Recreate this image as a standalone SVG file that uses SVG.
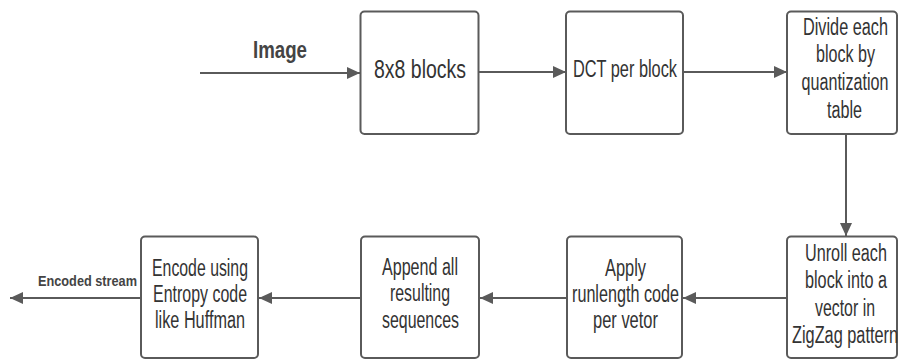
<svg xmlns="http://www.w3.org/2000/svg" width="899" height="360" viewBox="0 0 899 360">
  <style>
    .box { fill: #ffffff; stroke: #5a5a5a; stroke-width: 2; }
    .lbl { font-family: "Liberation Sans", Arial, sans-serif; font-size: 23px; fill: #333333; text-anchor: middle; }
    .big { font-size: 26px; }
    .edge { font-family: "Liberation Sans", Arial, sans-serif; font-weight: bold; fill: #444444; text-anchor: middle; }
    .wire { fill: none; stroke: #5a5a5a; stroke-width: 2; marker-end: url(#arrow); }
  </style>
  <defs>
    <marker id="arrow" markerUnits="userSpaceOnUse" markerWidth="14" markerHeight="13" refX="13" refY="6" orient="auto">
      <path d="M0,0 L13,6 L0,12 Z" fill="#5a5a5a"/>
    </marker>
  </defs>
  <rect width="899" height="360" fill="#ffffff"/>

  <!-- connectors -->
  <g id="connectors">
    <line class="wire" x1="200" y1="73" x2="360" y2="73"/>
    <line class="wire" x1="479" y1="72" x2="566" y2="72"/>
    <line class="wire" x1="683" y1="72" x2="787" y2="72"/>
    <line class="wire" x1="846" y1="134" x2="846" y2="236"/>
    <line class="wire" x1="787" y1="298" x2="683" y2="298"/>
    <line class="wire" x1="567" y1="298" x2="480" y2="298"/>
    <line class="wire" x1="361" y1="298" x2="259" y2="298"/>
    <line class="wire" x1="141" y1="298" x2="10" y2="298"/>
    <text class="edge" x="280" y="58" font-size="23" textLength="54" lengthAdjust="spacingAndGlyphs">Image</text>
    <text class="edge" x="87.5" y="285.5" font-size="15.5" textLength="99" lengthAdjust="spacingAndGlyphs">Encoded stream</text>
  </g>

  <!-- 8x8 blocks -->
  <g id="blocks">
    <rect class="box" x="360.5" y="11.5" width="118" height="122.5" rx="4"/>
    <text class="lbl big" x="420" y="78" textLength="92" lengthAdjust="spacingAndGlyphs">8x8 blocks</text>
  </g>

  <!-- DCT per block -->
  <g id="dct">
    <rect class="box" x="566" y="11.5" width="117" height="122.5" rx="4"/>
    <text class="lbl" x="625" y="77" textLength="104" lengthAdjust="spacingAndGlyphs">DCT per block</text>
  </g>

  <!-- Quantization -->
  <g id="quantize">
    <rect class="box" x="787" y="11.5" width="110" height="122.5" rx="4"/>
    <text class="lbl" x="845.5" y="34.5" textLength="85" lengthAdjust="spacingAndGlyphs">Divide each</text>
    <text class="lbl" x="845.5" y="62" textLength="59" lengthAdjust="spacingAndGlyphs">block by</text>
    <text class="lbl" x="845" y="89.5" textLength="87" lengthAdjust="spacingAndGlyphs">quantization</text>
    <text class="lbl" x="844.5" y="117.5" textLength="35" lengthAdjust="spacingAndGlyphs">table</text>
  </g>

  <!-- ZigZag unroll -->
  <g id="zigzag">
    <rect class="box" x="787" y="236.5" width="110" height="121.5" rx="4"/>
    <text class="lbl" x="846" y="260.5" textLength="82" lengthAdjust="spacingAndGlyphs">Unroll each</text>
    <text class="lbl" x="846" y="288" textLength="82" lengthAdjust="spacingAndGlyphs">block into a</text>
    <text class="lbl" x="845" y="315.5" textLength="60" lengthAdjust="spacingAndGlyphs">vector in</text>
    <text class="lbl" x="845" y="343" textLength="106" lengthAdjust="spacingAndGlyphs">ZigZag pattern</text>
  </g>

  <!-- Run-length coding -->
  <g id="runlength">
    <rect class="box" x="567" y="236.5" width="115" height="121.5" rx="4"/>
    <text class="lbl" x="625.5" y="275.5" textLength="41" lengthAdjust="spacingAndGlyphs">Apply</text>
    <text class="lbl" x="625.5" y="301.5" textLength="107" lengthAdjust="spacingAndGlyphs">runlength code</text>
    <text class="lbl" x="625.5" y="327.5" textLength="65" lengthAdjust="spacingAndGlyphs">per vetor</text>
  </g>

  <!-- Append sequences -->
  <g id="append">
    <rect class="box" x="361" y="236.5" width="118" height="121.5" rx="4"/>
    <text class="lbl" x="420" y="274.5" textLength="76" lengthAdjust="spacingAndGlyphs">Append all</text>
    <text class="lbl" x="420" y="300.5" textLength="60" lengthAdjust="spacingAndGlyphs">resulting</text>
    <text class="lbl" x="420.5" y="327.5" textLength="77" lengthAdjust="spacingAndGlyphs">sequences</text>
  </g>

  <!-- Entropy coding -->
  <g id="entropy">
    <rect class="box" x="141" y="236.5" width="117" height="121.5" rx="4"/>
    <text class="lbl" x="200" y="275.5" textLength="96" lengthAdjust="spacingAndGlyphs">Encode using</text>
    <text class="lbl" x="200" y="301.5" textLength="94" lengthAdjust="spacingAndGlyphs">Entropy code</text>
    <text class="lbl" x="200" y="327.5" textLength="90" lengthAdjust="spacingAndGlyphs">like Huffman</text>
  </g>
</svg>
